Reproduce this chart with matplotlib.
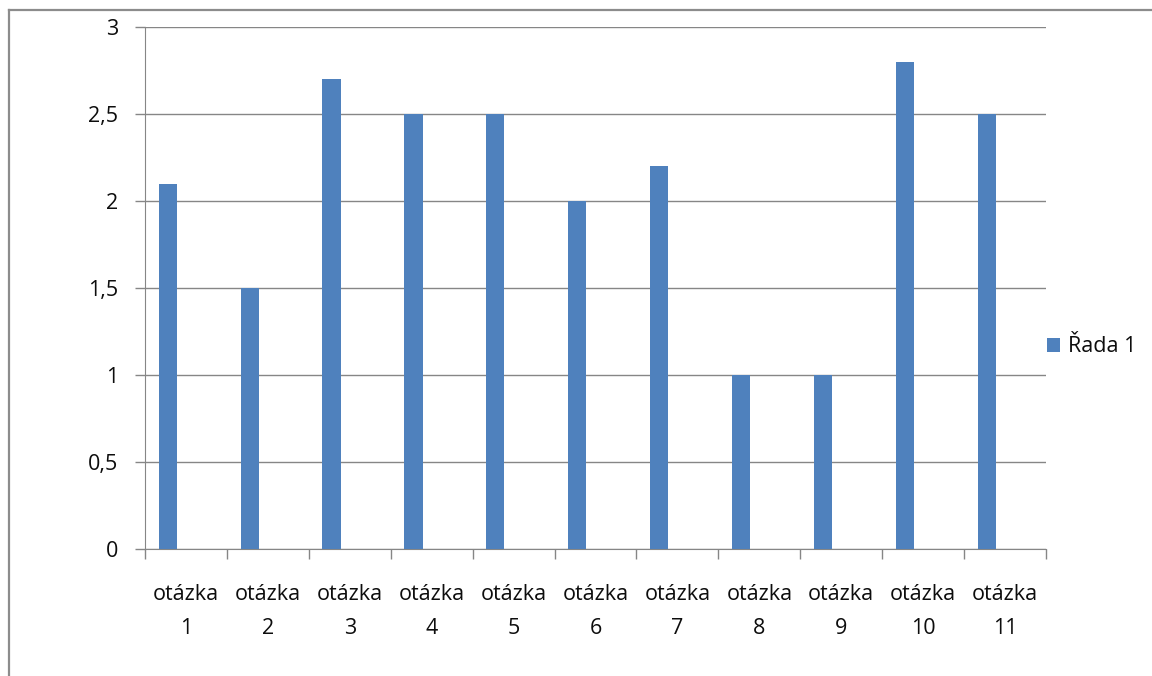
import matplotlib.pyplot as plt
from matplotlib.lines import Line2D
from matplotlib.ticker import FuncFormatter
import numpy as np

plt.rcParams['font.family'] = ['Open Sans', 'DejaVu Sans']

# Data
categories = ['otázka\n1', 'otázka\n2', 'otázka\n3', 'otázka\n4', 'otázka\n5', 'otázka\n6',
              'otázka\n7', 'otázka\n8', 'otázka\n9', 'otázka\n10', 'otázka\n11']
values = [2.1, 1.5, 2.7, 2.5, 2.5, 2.0, 2.2, 1.0, 1.0, 2.8, 2.5]
series_name = 'Řada 1'

W, H = 1152, 676
fig = plt.figure(figsize=(W / 100, H / 100), dpi=100)
ax = fig.add_axes([145 / W, 1 - 549 / H, (1046 - 145) / W, (549 - 27) / H])

grid_c = '#868686'
bar_c = '#4F81BD'
text_c = '#0d0d0d'
fs = 15.5

# bars sit in the left part of each category slot (Excel-style clustered layout)
bar_w = 1 / 4.5
offset = 0.75 / 4.5 + bar_w / 2
x = np.arange(len(values))
bars = ax.bar(x + offset, values, width=bar_w, color=bar_c, label=series_name, zorder=3)

ax.set_xlim(0, len(values))
ax.set_ylim(0, 3)
ax.set_yticks(np.arange(0, 3.01, 0.5))
ax.yaxis.set_major_formatter(FuncFormatter(lambda v, p: f'{v:g}'.replace('.', ',')))
ax.grid(axis='y', color=grid_c, linewidth=1.0, zorder=0)

# category boundary ticks, labels centred between them
ax.set_xticks(np.arange(0, len(values) + 1))
ax.set_xticklabels([])
ax.set_xticks(x + 0.5, minor=True)
ax.set_xticklabels(categories, minor=True, linespacing=1.8)
ax.tick_params(axis='x', which='major', length=7, width=1, colors=grid_c, direction='out')
ax.tick_params(axis='x', which='minor', length=0, pad=25, labelsize=fs, colors=text_c)
ax.tick_params(axis='y', length=7.2, width=1, colors=grid_c, pad=12, labelsize=fs,
               labelcolor=text_c)

for s in ['top', 'right']:
    ax.spines[s].set_visible(False)
ax.spines['left'].set_color(grid_c)
ax.spines['bottom'].set_color(grid_c)

leg = ax.legend(handles=[bars], loc='center left', bbox_to_anchor=(1036 / W, 1 - 347 / H),
                bbox_transform=fig.transFigure, frameon=False, fontsize=fs,
                handlelength=0.6, handleheight=0.6, handletextpad=0.4, borderpad=0)
for t in leg.get_texts():
    t.set_color(text_c)

# outer chart frame (left and top edges)
frame_c = '#8c8c8c'
fig.add_artist(Line2D([8.5 / W, 8.5 / W], [0, 1 - 9.5 / H], color=frame_c, linewidth=1.6,
                      transform=fig.transFigure))
fig.add_artist(Line2D([8.5 / W, 1], [1 - 9.5 / H, 1 - 9.5 / H], color=frame_c, linewidth=1.6,
                      transform=fig.transFigure))

fig.savefig('out.png', dpi=100)
